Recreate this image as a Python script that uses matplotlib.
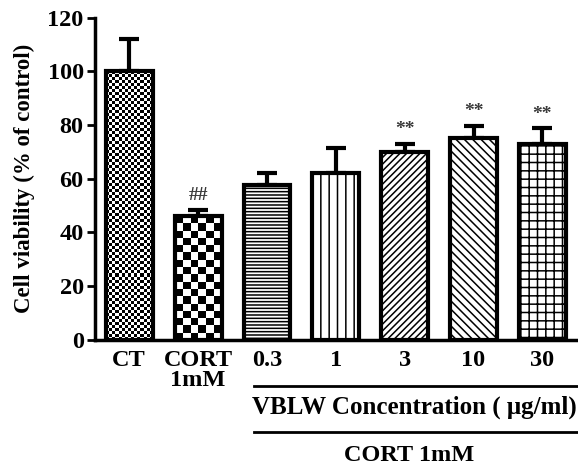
import matplotlib.pyplot as plt
import matplotlib.transforms as mtransforms
import numpy as np

# bar data
groups = ['CT', 'CORT\n1mM', '0.3', '1', '3', '10', '30']
viability = [100, 46, 57.5, 62, 70, 75, 73]
sem = [12, 2.5, 4.5, 9.5, 3, 4.7, 5.8]
marks = ['', '##', '', '', '**', '**', '**']
hatches = ['', '', '-----', '||', '/////', '\\\\\\\\', '++']
checker_cells = {0: 3.0, 1: 7.0}   # px size of checker squares for CT and CORT

plt.rcParams['font.family'] = ['Liberation Serif', 'DejaVu Serif']
plt.rcParams['font.weight'] = 'bold'
plt.rcParams['axes.labelweight'] = 'bold'
plt.rcParams['hatch.linewidth'] = 1.1

fig = plt.figure(figsize=(5.78, 4.74), dpi=100)
ax = fig.add_axes([0.164, 0.283, 0.834, 0.68])

x = np.arange(len(groups))
bars = ax.bar(x, viability, width=0.68, color='white', edgecolor='black',
              linewidth=3, zorder=3)
for b, h in zip(bars, hatches):
    b.set_hatch(h)

ax.errorbar(x, viability, yerr=[np.zeros(len(sem)), sem], fmt='none',
            ecolor='black', elinewidth=3, capsize=7, capthick=3, zorder=2)

ax.set_xlim(-0.5, 6.5)
ax.set_ylim(0, 120)

# checkerboard fills (no built-in hatch for these)
fig.canvas.draw()
for i, cell in checker_cells.items():
    b = bars[i]
    b.set_facecolor('none')
    bb = b.get_window_extent()
    nx = max(int(bb.width / cell), 1)
    ny = max(int(bb.height / cell), 1)
    yy, xx = np.indices((ny, nx))
    board = (xx + yy) % 2
    ax.imshow(board, cmap='gray', extent=(b.get_x(), b.get_x() + b.get_width(), 0, b.get_height()),
              aspect='auto', interpolation='nearest', zorder=2.5, clip_path=b, clip_on=True)
ax.set_xlim(-0.5, 6.5)
ax.set_ylim(0, 120)

for xi, v, e, m in zip(x, viability, sem, marks):
    if m:
        ax.text(xi, v + e + 2, m, ha='center', va='bottom', fontsize=14, color='#3a3a3a')

ax.spines['top'].set_visible(False)
ax.spines['right'].set_visible(False)
ax.spines['left'].set_linewidth(2.5)
ax.spines['bottom'].set_linewidth(2.5)
ax.tick_params(axis='y', width=2, length=6, labelsize=17.5, pad=2)
ax.tick_params(axis='x', length=0, labelsize=17.5, pad=7)
ax.set_yticks(np.arange(0, 121, 20))
ax.set_xticks(x)
ax.set_xticklabels(groups, linespacing=0.95)
ax.set_ylabel('Cell viability (% of control)', fontsize=16.5, labelpad=9)

# group brackets below the axis
trans = mtransforms.blended_transform_factory(ax.transData, ax.transAxes)
ax.plot([1.81, 6.5], [-0.143, -0.143], color='black', lw=2, transform=trans, clip_on=False)
ax.plot([1.81, 6.5], [-0.285, -0.285], color='black', lw=2, transform=trans, clip_on=False)
ax.text(4.14, -0.21, 'VBLW Concentration ( \u03bcg/ml)', ha='center', va='center',
        fontsize=18, transform=trans)
ax.text(4.06, -0.36, 'CORT 1mM', ha='center', va='center', fontsize=17.5, transform=trans)

fig.savefig('out.png', dpi=100)
